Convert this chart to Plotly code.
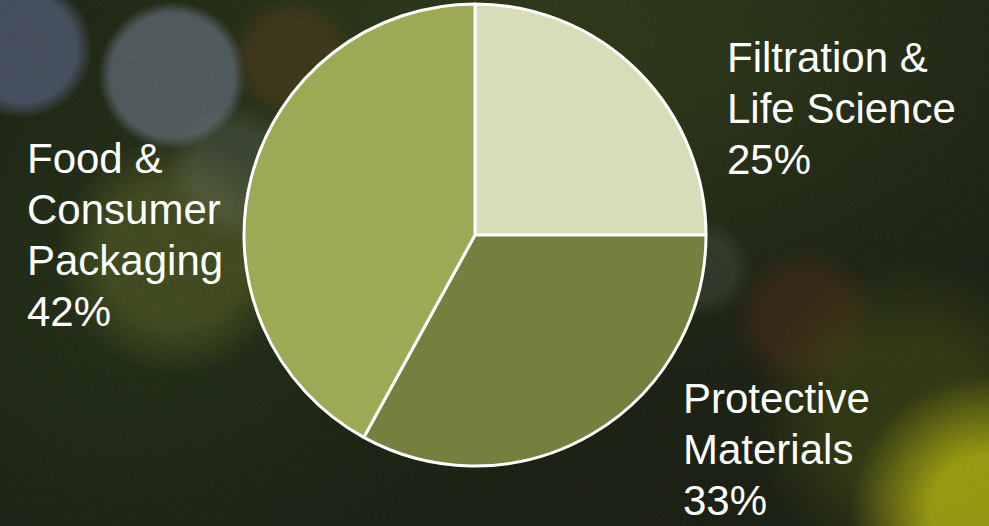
import base64
import struct
import zlib

import numpy as np
import plotly.graph_objects as go

# Segment shares of net sales
segments = ["Filtration &<br>Life Science", "Protective<br>Materials", "Food &<br>Consumer<br>Packaging"]
shares = [25, 33, 42]
colors = ["#d8ddb9", "#777f3e", "#9ea955"]

W, H = 989, 526

# ---- soft bokeh backdrop rendered to a PNG ----
yy, xx = np.mgrid[0:H, 0:W].astype(float)
img = np.zeros((H, W, 3))
img[:] = np.array([28, 33, 21], float)
# gentle tonal variation across the frame
top_glow = np.exp(-(((xx - 560) / 420) ** 2 + ((yy - 30) / 240) ** 2))
img += top_glow[..., None] * np.array([18, 24, 6])
left_glow = np.exp(-(((xx - 120) / 260) ** 2 + ((yy - 330) / 220) ** 2))
img += left_glow[..., None] * np.array([6, 12, 3])

# (cx, cy, radius, softness, rgb, strength)
bokeh = [
    (22, 48, 62, 16, (84, 96, 122), 0.72),
    (172, 75, 68, 12, (96, 108, 120), 0.72),
    (292, 58, 52, 22, (78, 60, 28), 0.6),
    (175, 255, 95, 50, (90, 98, 40), 0.55),
    (235, 170, 55, 30, (110, 120, 112), 0.3),
    (805, 318, 58, 30, (62, 42, 25), 0.75),
    (702, 268, 40, 20, (76, 82, 70), 0.4),
    (910, 420, 120, 80, (70, 80, 20), 0.5),
    (985, 510, 95, 80, (170, 170, 18), 0.85),
]
for cx, cy, r, soft, rgb, s in bokeh:
    d = np.hypot(xx - cx, yy - cy)
    a = np.clip((r - d) / soft + 0.5, 0, 1) * s
    img = img * (1 - a[..., None]) + np.array(rgb, float) * a[..., None]

rng = np.random.default_rng(3)
img += rng.normal(0, 2.0, img.shape)
img = np.clip(img, 0, 255).astype(np.uint8)


def to_png(arr):
    h, w, _ = arr.shape
    raw = b"".join(b"\x00" + arr[i].tobytes() for i in range(h))

    def chunk(tag, data):
        body = tag + data
        return struct.pack(">I", len(data)) + body + struct.pack(">I", zlib.crc32(body) & 0xFFFFFFFF)

    return (b"\x89PNG\r\n\x1a\n"
            + chunk(b"IHDR", struct.pack(">IIBBBBB", w, h, 8, 2, 0, 0, 0))
            + chunk(b"IDAT", zlib.compress(raw, 9))
            + chunk(b"IEND", b""))


bg_uri = "data:image/png;base64," + base64.b64encode(to_png(img)).decode()

# ---- pie ----
cx, cy, rad = 475, 235, 231
fig = go.Figure(go.Pie(
    labels=segments,
    values=shares,
    sort=False,
    direction="clockwise",
    rotation=0,
    marker=dict(colors=colors, line=dict(color="white", width=3)),
    textinfo="none",
    hoverinfo="label+percent",
    showlegend=False,
    domain=dict(x=[(cx - rad) / W, (cx + rad) / W],
                y=[1 - (cy + rad) / H, 1 - (cy - rad) / H]),
))

# label anchors (left edge, top of first line) for each segment; one
# annotation per text line so the line pitch can be set directly
label_pos = [(725, 32), (681, 373), (25, 133)]
line_pitch = 51
for name, val, (lx, ty) in zip(segments, shares, label_pos):
    lines = name.split("<br>") + [f"{val}%"]
    for i, line in enumerate(lines):
        fig.add_annotation(
            text=line,
            x=lx / W, y=1 - (ty + i * line_pitch) / H, xref="paper", yref="paper",
            xanchor="left", yanchor="top", align="left", showarrow=False,
            font=dict(family="Liberation Sans, Arial", size=42, color="white"),
        )

fig.update_layout(
    width=W, height=H,
    margin=dict(l=0, r=0, t=0, b=0),
    paper_bgcolor="#1e2616",
    plot_bgcolor="rgba(0,0,0,0)",
    images=[dict(source=bg_uri, xref="paper", yref="paper", x=0, y=1,
                 sizex=1, sizey=1, xanchor="left", yanchor="top",
                 sizing="stretch", layer="below")],
)

fig.write_html("out.html")
